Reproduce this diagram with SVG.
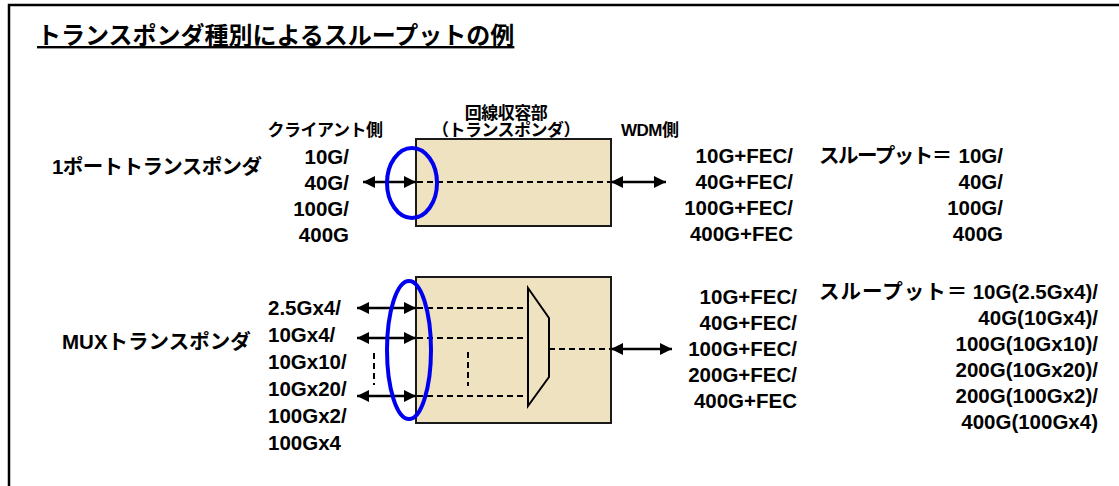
<svg xmlns="http://www.w3.org/2000/svg" width="1119" height="486" viewBox="0 0 1119 486">
<style>
text{font-family:"Liberation Sans","Noto Sans CJK JP",sans-serif;font-weight:bold;font-size:20.5px;fill:#000}
.title{font-size:24px;text-decoration:underline}
.hd{font-size:17px;letter-spacing:-0.5px}
.box{fill:#EFE2C1;stroke:#1a1a1a;stroke-width:2}
.ell{fill:none;stroke:#0000F0;stroke-width:4}
.arr{stroke:#000;stroke-width:2.4;fill:none;marker-start:url(#ah);marker-end:url(#ah)}
.dash{stroke:#000;stroke-width:2;stroke-dasharray:6 4;fill:none}
.mux{fill:none;stroke:#000;stroke-width:2}
.e{text-anchor:end}
</style>
<defs>
<marker id="ah" viewBox="0 0 12 12" refX="12" refY="6" markerWidth="12" markerHeight="12" markerUnits="userSpaceOnUse" orient="auto-start-reverse">
<path d="M0,0 L12,6 L0,12 z" fill="#000"/>
</marker>
</defs>
<rect x="9" y="5" width="1120" height="490" fill="none" stroke="#000" stroke-width="2.5"/>
<text class="title" x="37" y="44">トランスポンダ種別によるスループットの例</text>
<g id="headers">
<text class="hd" x="506" y="119" text-anchor="middle">回線収容部</text>
<text class="hd" x="506" y="136" text-anchor="middle">（トランスポンダ）</text>
<text class="hd" x="325" y="136" text-anchor="middle">クライアント側</text>
<text class="hd" x="621" y="136">WDM側</text>
</g>
<g id="row1-label"><text x="52" y="174" letter-spacing="-0.6">1ポートトランスポンダ</text></g>
<g id="row1-client">
<text class="e" x="349" y="164">10G/</text>
<text class="e" x="349" y="190">40G/</text>
<text class="e" x="349" y="216">100G/</text>
<text class="e" x="349" y="242">400G</text>
</g>
<g id="row1-box"><rect class="box" x="416" y="139" width="195" height="87"/></g>
<g id="row1-wdm">
<text class="e" x="793" y="163">10G+FEC/</text>
<text class="e" x="793" y="189">40G+FEC/</text>
<text class="e" x="793" y="215">100G+FEC/</text>
<text class="e" x="793" y="241">400G+FEC</text>
</g>
<g id="row1-throughput">
<text><tspan x="819" y="163" letter-spacing="-1.5">スループット＝</tspan><tspan class="e" x="1003" y="163">10G/</tspan></text>
<text class="e" x="1003" y="189">40G/</text>
<text class="e" x="1003" y="215">100G/</text>
<text class="e" x="1003" y="241">400G</text>
</g>
<g id="row2-label"><text x="62" y="349">MUXトランスポンダ</text></g>
<g id="row2-client">
<text x="268" y="315">2.5Gx4/</text>
<text x="268" y="342">10Gx4/</text>
<text x="268" y="369">10Gx10/</text>
<text x="268" y="396">10Gx20/</text>
<text x="268" y="423">100Gx2/</text>
<text x="268" y="450">100Gx4</text>
</g>
<g id="row2-box">
<rect class="box" x="416" y="277" width="195" height="146"/>
<polygon class="mux" points="528,288 549,318 549,377 528,406"/>
</g>
<g id="row2-wdm">
<text class="e" x="797" y="304">10G+FEC/</text>
<text class="e" x="797" y="330">40G+FEC/</text>
<text class="e" x="797" y="356">100G+FEC/</text>
<text class="e" x="797" y="382">200G+FEC/</text>
<text class="e" x="797" y="408">400G+FEC</text>
</g>
<g id="row2-throughput">
<text><tspan x="819" y="299" letter-spacing="1">スループット＝</tspan><tspan class="e" x="1098" y="299">10G(2.5Gx4)/</tspan></text>
<text class="e" x="1098" y="325">40G(10Gx4)/</text>
<text class="e" x="1098" y="351">100G(10Gx10)/</text>
<text class="e" x="1098" y="377">200G(10Gx20)/</text>
<text class="e" x="1098" y="403">200G(100Gx2)/</text>
<text class="e" x="1098" y="429">400G(100Gx4)</text>
</g>
<g id="connectors">
<line class="arr" x1="363" y1="182" x2="416" y2="182"/>
<line class="dash" x1="417" y1="182" x2="610" y2="182"/>
<line class="arr" x1="611" y1="182" x2="666" y2="182"/>
<line class="arr" x1="357" y1="308" x2="416" y2="308"/>
<line class="arr" x1="357" y1="338" x2="416" y2="338"/>
<line class="arr" x1="357" y1="396" x2="416" y2="396"/>
<line class="dash" x1="374" y1="353" x2="374" y2="385"/>
<line class="dash" x1="417" y1="308" x2="528" y2="308"/>
<line class="dash" x1="417" y1="338" x2="528" y2="338"/>
<line class="dash" x1="417" y1="396" x2="528" y2="396"/>
<line class="dash" x1="468" y1="352" x2="468" y2="386"/>
<line class="dash" x1="549" y1="349" x2="610" y2="349"/>
<line class="arr" x1="611" y1="349" x2="672" y2="349"/>
</g>
<g id="highlights">
<ellipse class="ell" cx="412" cy="183" rx="25" ry="35"/>
<ellipse class="ell" cx="409" cy="350" rx="22" ry="69"/>
</g>
</svg>
